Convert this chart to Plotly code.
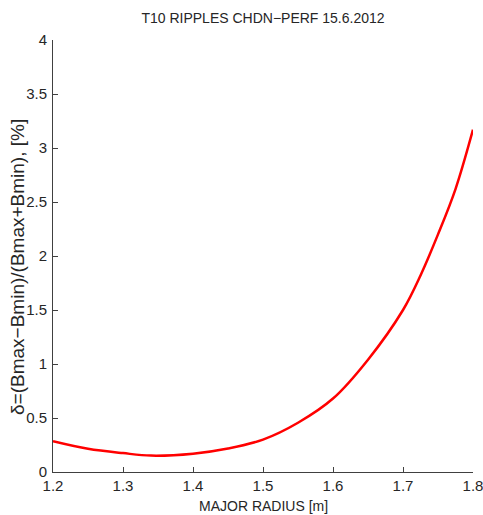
import plotly.graph_objects as go

radius = [1.20, 1.25, 1.30, 1.34, 1.40, 1.45, 1.50, 1.55, 1.60, 1.65, 1.70, 1.725, 1.75, 1.775, 1.80]
ripple = [0.285, 0.215, 0.175, 0.152, 0.170, 0.218, 0.30, 0.456, 0.68, 1.04, 1.50, 1.82, 2.20, 2.62, 3.17]

x_ticks = [1.2, 1.3, 1.4, 1.5, 1.6, 1.7, 1.8]
x_tick_labels = ["1.2", "1.3", "1.4", "1.5", "1.6", "1.7", "1.8"]
y_ticks = [0, 0.5, 1, 1.5, 2, 2.5, 3, 3.5, 4]
y_tick_labels = ["0", "0.5", "1", "1.5", "2", "2.5", "3", "3.5", "4"]

FONT = "Liberation Sans Narrow, Arial Narrow, Liberation Sans, Arial, sans-serif"
TXT = "#262626"
AX = "#404040"

W, H = 483, 515
L, R, T, B = 53, 473, 39.5, 472.5

fig = go.Figure()
fig.add_trace(go.Scatter(x=radius, y=ripple, mode="lines",
                         line=dict(color="#ff0000", width=2.5, shape="spline", smoothing=1.0),
                         showlegend=False, hoverinfo="skip", cliponaxis=False))

fig.update_layout(
    width=W, height=H,
    margin=dict(l=L, r=W - R, t=T, b=H - B, autoexpand=False),
    paper_bgcolor="white", plot_bgcolor="white",
    font=dict(family=FONT, size=15, color=TXT),
    title=dict(text="T10 RIPPLES CHDN\u2212PERF 15.6.2012", x=263 / W, xanchor="center",
               y=1 - 18 / H, yanchor="middle", yref="container",
               font=dict(family=FONT, size=14, color=TXT)),
    xaxis=dict(range=[1.2, 1.8], tickvals=x_ticks, ticktext=x_tick_labels,
               showline=True, linecolor=AX, linewidth=1, mirror=False, automargin=False,
               ticks="inside", ticklen=5, tickcolor=AX, showgrid=False, zeroline=False,
               ticklabeloverflow="allow",
               tickfont=dict(family=FONT, size=15, color=TXT)),
    yaxis=dict(range=[0, 4], tickvals=y_ticks, ticktext=y_tick_labels,
               showline=True, linecolor=AX, linewidth=1, mirror=False, automargin=False,
               ticks="inside", ticklen=5, tickcolor=AX, showgrid=False, zeroline=False,
               ticklabeloverflow="allow", ticklabelstandoff=2,
               tickfont=dict(family=FONT, size=15, color=TXT)),
    annotations=[
        dict(text="MAJOR RADIUS [m]", xref="paper", yref="paper",
             x=(263 - L) / (R - L), y=(B - 507) / (B - T),
             xanchor="center", yanchor="middle", showarrow=False,
             font=dict(family=FONT, size=14, color=TXT)),
        dict(text="\u03b4=(Bmax\u2212Bmin)/(Bmax+Bmin), [%]", xref="paper", yref="paper",
             x=(18 - L) / (R - L), y=(B - 267) / (B - T),
             xanchor="center", yanchor="middle", textangle=-90, showarrow=False,
             font=dict(family=FONT, size=19, color=TXT)),
    ],
)

fig.write_html("out.html", config={"displayModeBar": False},
               post_script="document.body.style.margin='0';document.body.style.overflow='hidden';")
